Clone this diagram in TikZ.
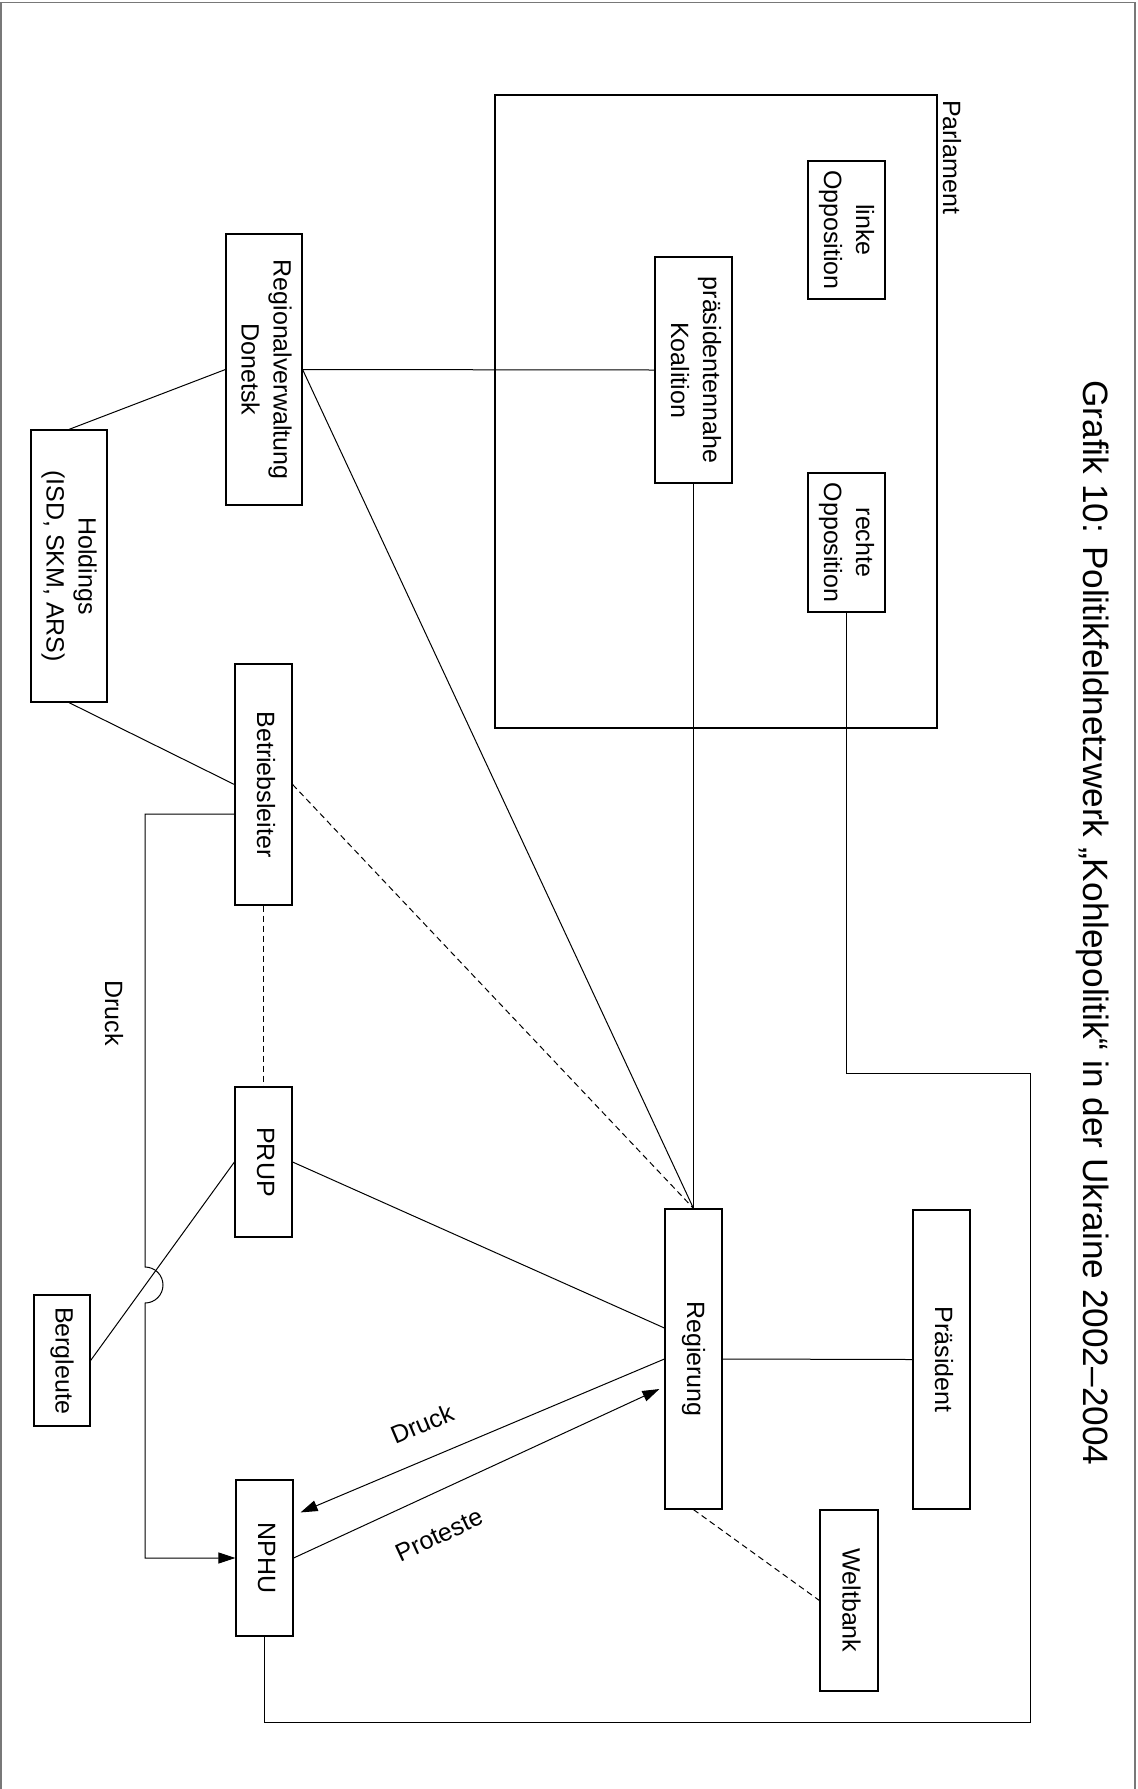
\documentclass[tikz,border=0pt]{standalone}
\usepackage{fontspec}
\setmainfont{Liberation Sans}
\usepackage{graphicx}
\usetikzlibrary{arrows.meta}
\definecolor{framegray}{RGB}{120,120,120}
\newcommand\rotlabel[1]{\rotatebox{-90}{\begin{tabular}{@{}c@{}}#1\end{tabular}}}
\begin{document}
\begin{tikzpicture}[x=0.5pt,y=-0.5pt, line width=0.5pt,
  box/.style={draw, line width=0.6pt, inner sep=0pt, font=\fontsize{12.5}{16}\selectfont},
  lbl/.style={inner sep=0pt, font=\fontsize{12.5}{16}\selectfont},
  dashedlink/.style={dash pattern=on 3pt off 2pt},
  tip/.style={-{Triangle[length=8.5pt,width=5.5pt]}},
]
\useasboundingbox (0,0) rectangle (1138,1789);
% frame
\draw[line width=0.8pt, framegray] (1,1789) -- (1,2.5) -- (1135,2.5) -- (1135,1789);

% nodes
\node[box, minimum width=221pt, minimum height=316.5pt] (parl) at (716,411.5) {};
\node[box, minimum width=38.5pt, minimum height=69pt] (linke) at (846.5,230) {\rotlabel{linke\\Opposition}};
\node[box, minimum width=38.5pt, minimum height=69.5pt] (rechte) at (846.5,542.5) {\rotlabel{rechte\\Opposition}};
\node[box, minimum width=38.5pt, minimum height=113pt] (koal) at (693.5,370) {\rotlabel{präsidentennahe\\Koalition}};
\node[box, minimum width=38pt, minimum height=135.5pt] (regv) at (264,369.5) {\rotlabel{Regionalverwaltung\\Donetsk}};
\node[box, minimum width=38pt, minimum height=136pt] (hold) at (69,566) {\rotlabel{Holdings\\(ISD, SKM, ARS)}};
\node[box, minimum width=28.5pt, minimum height=120.5pt] (betr) at (263.5,784.5) {\rotlabel{Betriebsleiter}};
\node[box, minimum width=28.5pt, minimum height=75pt] (prup) at (263.5,1162) {\rotlabel{PRUP}};
\node[box, minimum width=28pt, minimum height=65.5pt] (berg) at (62,1360.5) {\rotlabel{Bergleute}};
\node[box, minimum width=28.5pt, minimum height=78pt] (nphu) at (264.5,1558) {\rotlabel{NPHU}};
\node[box, minimum width=28.5pt, minimum height=150pt] (reg) at (693.5,1359) {\rotlabel{Regierung}};
\node[box, minimum width=28.5pt, minimum height=149.5pt] (pras) at (941.5,1359.5) {\rotlabel{Präsident}};
\node[box, minimum width=29pt, minimum height=90.5pt] (welt) at (849,1600.5) {\rotlabel{Weltbank}};

% labels
\node[lbl, rotate=-90] (parllbl) at (952,157) {Parlament};
\node[lbl, rotate=-90] (druckv) at (114,1013) {Druck};
\node[lbl, rotate=23] (druckd) at (422,1424) {Druck};
\node[lbl, rotate=25] (prot) at (439,1535) {Proteste};
\node[inner sep=0pt, rotate=-90, font=\fontsize{17.6}{20}\selectfont] (title) at (1093,923) {Grafik 10: Politikfeldnetzwerk „Kohlepolitik“ in der Ukraine 2002–2004};

% connectors
\draw (regv.east) -- (koal.west);
\draw (regv.west) -- (hold.north);
\draw (hold.south) -- (betr.west);
\draw (regv.east) -- (reg.north);
\draw (koal.south) -- (reg.north);
\draw[dashedlink] (betr.east) -- (reg.north);
\draw[dashedlink] (betr.south) -- (prup.north);
\draw (prup.east) -- ([yshift=15.5pt]reg.west);
\draw (prup.west) -- (berg.east);
\draw[tip] ([yshift=-14.75pt]betr.west) -| (145,1267) arc[start angle=90, end angle=-90, radius=9pt] |- (nphu.west);
\draw[tip] (reg.west) -- ([shift={(3.5pt,-16.5pt)}]nphu.north east);
\draw[tip] (nphu.east) -- ([shift={(-2.5pt,-15pt)}]reg.west);
\draw (reg.east) -- (pras.west);
\draw[dashedlink] (reg.south) -- (welt.west);
\draw (rechte.south) |- (1030,1073) -- (1030,1722) -| (nphu.south);
\end{tikzpicture}
\end{document}
